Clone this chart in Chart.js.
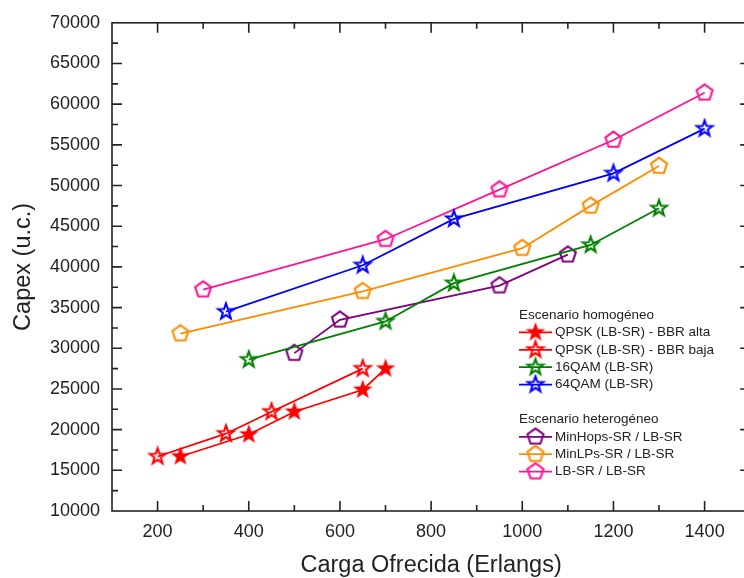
<!DOCTYPE html>
<html>
<head>
<meta charset="utf-8">
<script src="https://cdn.jsdelivr.net/npm/chart.js@4/dist/chart.umd.min.js"></script>
<style>
  html, body { margin: 0; padding: 0; background: #fff; overflow: hidden; }
  #wrap { width: 760px; height: 578px; }
</style>
</head>
<body>
<div id="wrap"><canvas id="chart" width="760" height="578"></canvas></div>
<script>
// escenario homogeneo
var qpskAltaX = [250, 400, 500, 650, 700];
var qpskAltaY = [16700, 19400, 22200, 24900, 27500];
var qpskBajaX = [200, 350, 450, 650];
var qpskBajaY = [16700, 19500, 22200, 27500];
var qam16X = [400, 700, 850, 1150, 1300];
var qam16Y = [28600, 33300, 38000, 42700, 47200];
var qam64X = [350, 650, 850, 1200, 1400];
var qam64Y = [34500, 40200, 45900, 51500, 57000];

// escenario heterogeneo
var minHopsX = [500, 600, 950, 1100];
var minHopsY = [29400, 33500, 37700, 41500];
var minLPsX = [250, 650, 1000, 1150, 1300];
var minLPsY = [31800, 37000, 42300, 47500, 52400];
var lbX = [300, 700, 950, 1200, 1400];
var lbY = [37200, 43400, 49500, 55600, 61400];

var xTicks = [200, 400, 600, 800, 1000, 1200, 1400];
var yTicks = [10000, 15000, 20000, 25000, 30000, 35000, 40000, 45000, 50000, 55000, 60000, 65000, 70000];
var xMinorStep = 100;
var yMinorStep = 2500;
var legendHeaders = ['Escenario homogéneo', 'Escenario heterogéneo'];

var FONT = "'Liberation Sans', Arial, sans-serif";
var INK = '#222';

function pts(xs, ys) {
  return xs.map(function (x, i) { return { x: x, y: ys[i] }; });
}

// stars and pentagons like the Origin markers
function makeMarker(shape, color, filled) {
  var c = document.createElement('canvas');
  c.width = 22; c.height = 22;
  var g = c.getContext('2d');
  g.translate(11, 11);
  var n = shape === 'star' ? 10 : 5;
  g.beginPath();
  for (var i = 0; i < n; i++) {
    var r = shape === 'star' ? (i % 2 ? 3.3 : 8.2) : 8.4;
    var ang = -Math.PI / 2 + i * 2 * Math.PI / n;
    var px = r * Math.cos(ang), py = r * Math.sin(ang);
    if (i === 0) g.moveTo(px, py); else g.lineTo(px, py);
  }
  g.closePath();
  if (filled) { g.fillStyle = color; g.fill(); }
  g.strokeStyle = color;
  g.lineWidth = filled ? 1.4 : 2.1;
  g.stroke();
  return c;
}

function series(label, xs, ys, color, shape, filled) {
  return {
    label: label,
    data: pts(xs, ys),
    showLine: true,
    borderColor: color,
    backgroundColor: color,
    borderWidth: 1.8,
    pointStyle: makeMarker(shape, color, filled),
    pointRadius: 8,
    pointHoverRadius: 8
  };
}

var framePlugin = {
  id: 'frame',
  beforeDatasetsDraw: function (chart) {
    var ctx = chart.ctx, a = chart.chartArea;
    var xs = chart.scales.x, ys = chart.scales.y;
    ctx.save();
    ctx.strokeStyle = INK;
    ctx.lineWidth = 1.6;
    ctx.strokeRect(a.left, a.top, a.right - a.left, a.bottom - a.top);
    ctx.beginPath();
    for (var v = xs.min + xMinorStep; v < xs.max; v += xMinorStep) {
      var len = xTicks.indexOf(v) >= 0 ? 10 : 6;
      var px = xs.getPixelForValue(v);
      ctx.moveTo(px, a.bottom); ctx.lineTo(px, a.bottom - len);
      ctx.moveTo(px, a.top); ctx.lineTo(px, a.top + len);
    }
    for (var w = ys.min + yMinorStep; w < ys.max; w += yMinorStep) {
      var l2 = yTicks.indexOf(w) >= 0 ? 10 : 6;
      var py = ys.getPixelForValue(w);
      ctx.moveTo(a.left, py); ctx.lineTo(a.left + l2, py);
      ctx.moveTo(a.right, py); ctx.lineTo(a.right - l2, py);
    }
    ctx.stroke();
    ctx.restore();
  }
};

var legendPlugin = {
  id: 'groupLegend',
  afterDraw: function (chart) {
    var ctx = chart.ctx;
    var x0 = 519, y0 = 315, step = 17.4;
    var rows = [legendHeaders[0], 0, 1, 2, 3, null, legendHeaders[1], 4, 5, 6];
    ctx.save();
    ctx.font = '13.5px ' + FONT;
    ctx.textBaseline = 'middle';
    ctx.fillStyle = INK;
    rows.forEach(function (r, i) {
      var y = y0 + i * step;
      if (r === null) return;
      if (typeof r === 'string') {
        ctx.fillStyle = INK;
        ctx.fillText(r, x0, y);
        return;
      }
      var ds = chart.data.datasets[r];
      ctx.strokeStyle = ds.borderColor;
      ctx.lineWidth = ds.borderWidth;
      ctx.beginPath();
      ctx.moveTo(x0, y); ctx.lineTo(x0 + 33, y);
      ctx.stroke();
      var img = ds.pointStyle;
      ctx.drawImage(img, x0 + 16.5 - img.width / 2, y - img.height / 2);
      ctx.fillStyle = INK;
      ctx.fillText(ds.label, x0 + 36, y);
    });
    ctx.restore();
  }
};

function plain(v) { return String(v); }

new Chart(document.getElementById('chart'), {
  type: 'scatter',
  data: {
    datasets: [
      series('QPSK (LB-SR) - BBR alta', qpskAltaX, qpskAltaY, '#ff0000', 'star', true),
      series('QPSK (LB-SR) - BBR baja', qpskBajaX, qpskBajaY, '#ff0000', 'star', false),
      series('16QAM (LB-SR)', qam16X, qam16Y, '#008000', 'star', false),
      series('64QAM (LB-SR)', qam64X, qam64Y, '#0000ff', 'star', false),
      series('MinHops-SR / LB-SR', minHopsX, minHopsY, '#800080', 'pentagon', false),
      series('MinLPs-SR / LB-SR', minLPsX, minLPsY, '#ff8c00', 'pentagon', false),
      series('LB-SR / LB-SR', lbX, lbY, '#ff1493', 'pentagon', false)
    ]
  },
  options: {
    responsive: false,
    animation: false,
    layout: { padding: { left: 0, right: 8, top: 22, bottom: 0 } },
    plugins: {
      legend: { display: false },
      tooltip: { enabled: false }
    },
    scales: {
      x: {
        type: 'linear',
        min: 100,
        max: 1500,
        afterBuildTicks: function (s) { s.ticks = xTicks.map(function (v) { return { value: v }; }); },
        afterFit: function (s) { s.height = 67; },
        grid: { display: false, drawTicks: false },
        border: { display: false },
        ticks: { padding: 10, color: INK, font: { family: FONT, size: 18 }, callback: plain },
        title: {
          display: true,
          text: 'Carga Ofrecida (Erlangs)',
          color: INK,
          font: { family: FONT, size: 23.5, lineHeight: 1 },
          padding: { top: 0, bottom: 1 }
        }
      },
      y: {
        min: 10000,
        max: 70000,
        afterBuildTicks: function (s) { s.ticks = yTicks.map(function (v) { return { value: v }; }); },
        afterFit: function (s) { s.width = 112; },
        grid: { display: false, drawTicks: false },
        border: { display: false },
        ticks: { padding: 12, color: INK, font: { family: FONT, size: 18 }, callback: plain },
        title: {
          display: true,
          text: 'Capex (u.c.)',
          color: INK,
          font: { family: FONT, size: 23.5, lineHeight: 1.2 },
          padding: { top: 9, bottom: 0 }
        }
      }
    }
  },
  plugins: [framePlugin, legendPlugin]
});
</script>
</body>
</html>
